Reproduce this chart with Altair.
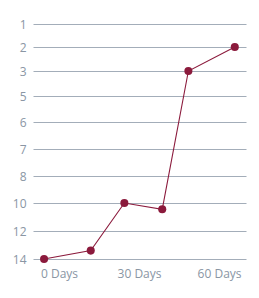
import altair as alt
import pandas as pd

# data
days = [-5.6, 11.9, 24.5, 38.7, 48.5, 65.9]
rank = [14, 13.4, 10, 10.45, 3, 2]

y_ticks = [1, 2, 3, 5, 6, 7, 8, 10, 12, 14]
y_pos = [0, 23, 47, 72, 98, 125, 152, 179, 207, 235]
x_ticks = [0, 30, 60]

df = pd.DataFrame({"day": days, "rank": rank})

COLOR = "#8b1a3c"
FONT = "Open Sans"
LABEL = "#8a96a4"
GRID = "#a3adb9"

x = alt.X("day:Q",
          scale=alt.Scale(domain=[-9.75, 70.1], nice=False, zero=False),
          axis=alt.Axis(values=x_ticks, labelExpr="datum.value + ' Days'",
                        title=None, grid=False, domain=False, ticks=False,
                        labelPadding=9, labelFontSize=12, labelFont=FONT,
                        labelColor=LABEL))
y = alt.Y("rank:Q",
          scale=alt.Scale(type="linear", domain=y_ticks, range=y_pos, nice=False, zero=False),
          axis=alt.Axis(values=y_ticks, title=None, grid=True, gridColor=GRID,
                        gridWidth=1, gridOpacity=1, domain=False, ticks=False,
                        labelPadding=7, labelFontSize=12, labelFont=FONT,
                        labelColor=LABEL))

line = alt.Chart(df).mark_line(color=COLOR, strokeWidth=1.1).encode(x=x, y=y)
pts = alt.Chart(df).mark_point(filled=True, color=COLOR, size=65, opacity=1).encode(x=x, y=y)

chart = (line + pts).properties(
    width=213, height=235,
    autosize=alt.AutoSizeParams(type="none"),
    padding={"left": 33, "top": 24, "right": 13, "bottom": 39},
).configure_view(stroke=None)

chart.save("out.html", embed_options={"renderer": "svg", "actions": False})
